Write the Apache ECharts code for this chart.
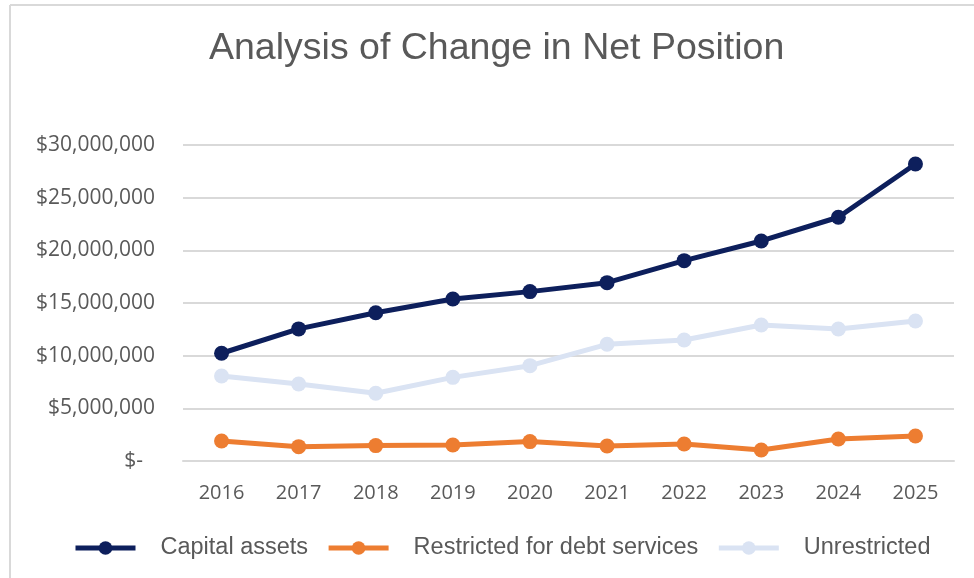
<!DOCTYPE html>
<html>
<head>
<meta charset="utf-8">
<title>Analysis of Change in Net Position</title>
<script src="https://cdn.jsdelivr.net/npm/echarts@6/dist/echarts.min.js"></script>
<style>
  html, body { margin: 0; padding: 0; background: #ffffff; }
  #chart { width: 974px; height: 578px; }
</style>
</head>
<body>
<div id="chart"></div>
<script>
// Fiscal years on the horizontal axis
const years = ['2016', '2017', '2018', '2019', '2020', '2021', '2022', '2023', '2024', '2025'];

// Net position components, in dollars
const capitalAssets = [10230000, 12540000, 14080000, 15380000, 16080000, 16930000, 19020000, 20890000, 23140000, 28200000];
const restrictedDebt = [1900000, 1360000, 1460000, 1520000, 1840000, 1420000, 1610000, 1040000, 2090000, 2370000];
const unrestricted = [8070000, 7310000, 6430000, 7940000, 9050000, 11080000, 11490000, 12910000, 12530000, 13290000];

// Value axis ticks
const yTicks = [0, 5000000, 10000000, 15000000, 20000000, 25000000, 30000000];

const seriesNames = ['Capital assets', 'Restricted for debt services', 'Unrestricted'];
const seriesColors = ['#0d1f5c', '#ed7d31', '#dae3f3'];
const seriesValues = [capitalAssets, restrictedDebt, unrestricted];

function money(v) {
  if (v === 0) return '{dash|$-}';
  return '$' + v.toLocaleString('en-US');
}

const chart = echarts.init(document.getElementById('chart'), null, { renderer: 'canvas' });

chart.setOption({
  backgroundColor: '#ffffff',
  animation: false,
  title: {
    text: 'Analysis of Change in Net Position',
    left: 204,
    top: 25,
    textStyle: {
      fontFamily: 'Liberation Sans',
      fontSize: 37.5,
      fontWeight: 'normal',
      color: '#595959'
    }
  },
  graphic: [
    { type: 'line', shape: { x1: 10, y1: 5, x2: 974, y2: 5 }, style: { stroke: '#d9d9d9', lineWidth: 2 } },
    { type: 'line', shape: { x1: 10, y1: 5, x2: 10, y2: 578 }, style: { stroke: '#d9d9d9', lineWidth: 2 } }
  ],
  legend: {
    bottom: 13,
    left: 68,
    itemWidth: 60,
    itemHeight: 17,
    itemGap: 18,
    data: seriesNames,
    lineStyle: { width: 5 },
    textStyle: {
      fontFamily: 'Liberation Sans',
      fontSize: 23.5,
      color: '#595959',
      padding: [0, 0, 0, 20]
    }
  },
  grid: {
    left: 183,
    right: 20,
    top: 145,
    bottom: 117
  },
  xAxis: {
    type: 'category',
    data: years,
    boundaryGap: true,
    axisLine: { show: true, lineStyle: { color: '#d9d9d9', width: 2 } },
    axisTick: { show: false },
    axisLabel: {
      margin: 22,
      fontFamily: 'Open Sans',
      fontSize: 20,
      color: '#595959'
    }
  },
  yAxis: {
    type: 'value',
    min: yTicks[0],
    max: yTicks[yTicks.length - 1],
    interval: yTicks[1] - yTicks[0],
    axisLine: { show: false },
    axisTick: { show: false },
    splitLine: { lineStyle: { color: '#d9d9d9', width: 2 } },
    axisLabel: {
      margin: 28,
      fontFamily: 'Open Sans',
      fontSize: 21,
      color: '#595959',
      formatter: money,
      rich: {
        dash: {
          fontFamily: 'Open Sans',
          fontSize: 21,
          color: '#595959',
          padding: [0, 12, 0, 0]
        }
      }
    }
  },
  series: seriesNames.map(function (name, i) {
    return {
      name: name,
      type: 'line',
      data: seriesValues[i],
      symbol: 'circle',
      symbolSize: 15,
      showSymbol: true,
      color: seriesColors[i],
      itemStyle: { color: seriesColors[i] },
      lineStyle: { color: seriesColors[i], width: 5 },
      z: 10 - i
    };
  })
});
</script>
</body>
</html>
